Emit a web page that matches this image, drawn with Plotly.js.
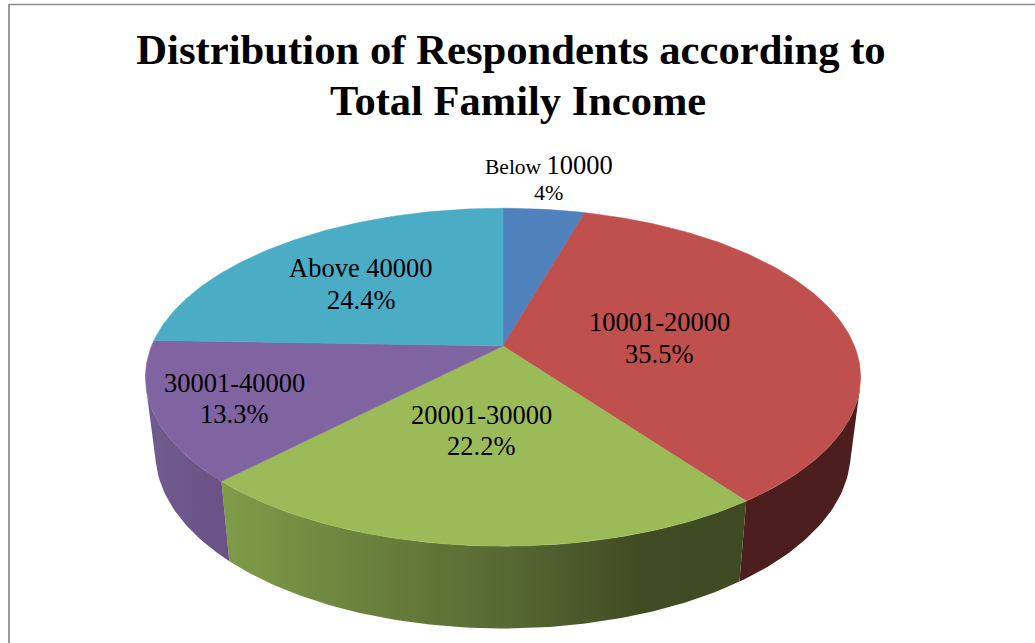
<!DOCTYPE html>
<html>
<head>
<meta charset="utf-8">
<script src="https://cdn.plot.ly/plotly-3.0.1.min.js"></script>
<style>html,body{margin:0;padding:0;background:#fff;overflow:hidden}#chart{width:1035px;height:643px}</style>
</head>
<body>
<div id="chart"></div>
<script>
const categories = ['Below 10000', '10001-20000', '20001-30000', '30001-40000', 'Above 40000'];
const shares = [4.4, 35.5, 22.2, 13.3, 24.4];
const percentLabels = ['4%', '35.5%', '22.2%', '13.3%', '24.4%'];
const titleLine = 'Distribution of Respondents according to';
const titleSecondLine = 'Total Family Income';

const topColors = ['#4f81bd', '#bf504d', '#9bbb59', '#8064a2', '#4bacc6'];
const wallFills = [
  null,
  {color: '#4c1f1e'},
  {stops: [[0, '#7e9c48'], [0.33, '#677c3b'], [0.55, '#566833'], [0.8, '#404c23'], [1, '#3e4a22']]},
  {stops: [[0, '#6f5c8f'], [1, '#6a5085']]},
  null
];
// label centres, pixel frame of the axes: [name x, name y, percent x, percent y]
const labelSpots = [[549, 165, 548.5, 192.5], [659, 322, 659, 354], [481, 415, 481, 446], [234, 383, 234, 414], [361, 268, 361, 300]];

// Perspective projection of the unit pie disc
const cx = 503, cy = 346, a = 351.5, b = -99.4, k = 0.1845;
const wallScale = 0.972, wallYScale = 1.04, wallYShift = 60.5;
const rad = d => d * Math.PI / 180;
function topPoint(deg, r) {
  const u = r * Math.sin(rad(deg)), v = r * Math.cos(rad(deg)), w = 1 + k * v;
  return [cx + a * u / w, (cy + b * v) / w];
}
function basePoint(deg) {
  const p = topPoint(deg, 1);
  return [cx + wallScale * (p[0] - cx), wallYScale * p[1] + wallYShift];
}
function arc(from, to, fn) {
  const n = Math.max(2, Math.ceil(Math.abs(to - from)));
  const out = [];
  for (let i = 0; i <= n; i++) out.push(fn(from + (to - from) * i / n));
  return out;
}

const total = shares.reduce((s, v) => s + v, 0);
let run = 0;
const spans = shares.map(v => {
  const s = [run / total * 360, (run + v) / total * 360];
  run += v;
  return s;
});

const walls = [], tops = [];
const visibleFrom = 104, visibleTo = 256;
spans.forEach((span, i) => {
  const from = Math.max(span[0], visibleFrom), to = Math.min(span[1], visibleTo);
  if (to > from && wallFills[i]) {
    const pts = arc(from, to, d => topPoint(d, 1)).concat(arc(to, from, basePoint));
    pts.push(pts[0]);
    const t = {
      type: 'scatter', mode: 'lines', fill: 'toself', hoverinfo: 'skip', showlegend: false,
      x: pts.map(p => p[0]), y: pts.map(p => p[1]), line: {width: 0, color: 'rgba(0,0,0,0)'}
    };
    if (wallFills[i].stops) {
      t.fillcolor = wallFills[i].stops[0][1];
      t.fillgradient = {type: 'horizontal', colorscale: wallFills[i].stops};
    } else {
      t.fillcolor = wallFills[i].color;
    }
    walls.push(t);
  }
  const pts = [[cx, cy]].concat(arc(span[0], span[1], d => topPoint(d, 1)));
  pts.push([cx, cy]);
  tops.push({
    type: 'scatter', mode: 'lines', fill: 'toself', name: categories[i], hoverinfo: 'name', showlegend: false,
    x: pts.map(p => p[0]), y: pts.map(p => p[1]),
    fillcolor: topColors[i], line: {width: 0.5, color: topColors[i]}
  });
});

const serif = '"Liberation Serif", "Times New Roman", serif';
const annotations = [{
  x: 517.5, y: 100, xref: 'x', yref: 'y', text: titleSecondLine, showarrow: false,
  xanchor: 'center', yanchor: 'middle', font: {family: serif, size: 42.5, color: '#000', weight: 'bold'}
}];
categories.forEach((name, i) => {
  const s = labelSpots[i];
  const nameText = i === 0
    ? '<span style="font-size:21.5px">Below </span>10000'
    : name;
  annotations.push({
    x: s[0], y: s[1], xref: 'x', yref: 'y', text: nameText, showarrow: false,
    xanchor: 'center', yanchor: 'middle', font: {family: serif, size: 26.5, color: '#000'}
  });
  annotations.push({
    x: s[2], y: s[3], xref: 'x', yref: 'y', text: percentLabels[i], showarrow: false,
    xanchor: 'center', yanchor: 'middle', font: {family: serif, size: i === 0 ? 22 : 26.5, color: '#000'}
  });
});

const layout = {
  width: 1035, height: 643,
  margin: {l: 0, r: 0, t: 0, b: 0},
  paper_bgcolor: '#fff', plot_bgcolor: '#fff',
  showlegend: false,
  title: {
    text: titleLine, x: 511 / 1035, xanchor: 'center', xref: 'container',
    y: 1 - 34 / 643, yanchor: 'top', yref: 'container',
    font: {family: serif, size: 42.7, color: '#000', weight: 'bold'}
  },
  xaxis: {range: [0, 1035], visible: false, fixedrange: true},
  yaxis: {range: [643, 0], visible: false, fixedrange: true},
  annotations,
  shapes: [
    {type: 'line', xref: 'x', yref: 'y', x0: 9, x1: 9, y0: 4, y1: 643, line: {color: '#999', width: 2}},
    {type: 'line', xref: 'x', yref: 'y', x0: 9, x1: 1035, y0: 4.5, y1: 4.5, line: {color: '#8c8c8c', width: 1.5}}
  ]
};
Plotly.newPlot('chart', walls.concat(tops), layout, {displayModeBar: false, staticPlot: true});
</script>
</body>
</html>
